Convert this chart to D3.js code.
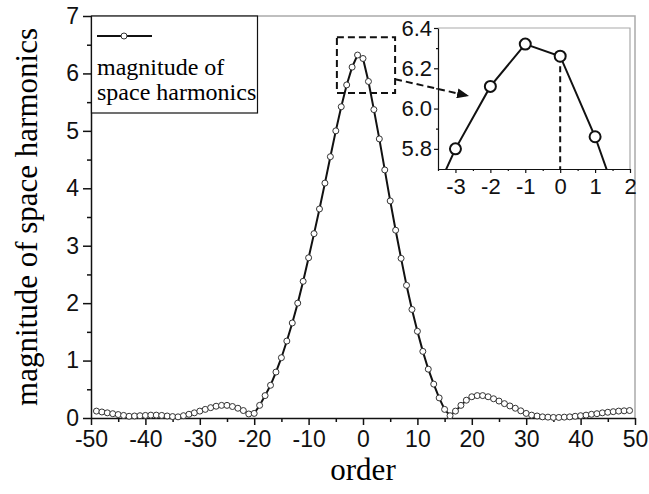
<!DOCTYPE html>
<html>
<head>
<meta charset="utf-8">
<script src="https://cdn.jsdelivr.net/npm/d3@7"></script>
<style>
  body { margin: 0; background: #fff; }
  svg { display: block; }
</style>
</head>
<body>
<div id="plot"></div>
<script>
// harmonic orders and their magnitudes
const orders = d3.range(-49, 50)
const magnitudes = [
  0.12, 0.105, 0.09, 0.075, 0.06, 0.045, 0.03, 0.035, 0.04, 0.045,   // -49..-40
  0.05, 0.05, 0.045, 0.035, 0.025, 0.02, 0.04, 0.065, 0.09, 0.12,     // -39..-30
  0.15, 0.18, 0.205, 0.22, 0.22, 0.2, 0.17, 0.13, 0.07, 0.08,         // -29..-20
  0.22, 0.39, 0.57, 0.80, 1.05, 1.34, 1.655, 2.00, 2.38, 2.79,        // -19..-10
  3.21, 3.64, 4.09, 4.55, 5.00, 5.42, 5.80, 6.11, 6.32, 6.26,         // -9..0
  5.86, 5.37, 4.86, 4.32, 3.78, 3.27, 2.78, 2.31, 1.89, 1.51,         // 1..10
  1.16, 0.85, 0.59, 0.35, 0.15, 0.04, 0.12, 0.22, 0.31, 0.37,         // 11..20
  0.39, 0.39, 0.37, 0.335, 0.295, 0.25, 0.21, 0.17, 0.125, 0.08,      // 21..30
  0.05, 0.035, 0.02, 0.015, 0.01, 0.01, 0.015, 0.02, 0.03, 0.04,      // 31..40
  0.05, 0.065, 0.075, 0.09, 0.10, 0.11, 0.12, 0.125, 0.13             // 41..49
]
const xTicks = [-50, -40, -30, -20, -10, 0, 10, 20, 30, 40, 50]
const yTicks = [0, 1, 2, 3, 4, 5, 6, 7]
const insetXTicks = [-3, -2, -1, 0, 1, 2]
const insetYTicks = [5.8, 6.0, 6.2, 6.4]
const legendLines = ['magnitude of', 'space harmonics']

const data = orders.map((o, i) => ({order: o, value: magnitudes[i]}))

var width = 649, height = 494
var margin = {top: 16, right: 14, bottom: 76, left: 91}
var w = width - margin.left - margin.right,
    h = height - margin.top - margin.bottom

var svg = d3.select('#plot')
  .append('svg')
    .attr('width', width)
    .attr('height', height)

var g = svg.append('g')
    .attr('transform', `translate(${margin.left},${margin.top})`)

var x = d3.scaleLinear().domain([-50, 50]).range([0, w])
var y = d3.scaleLinear().domain([0, 7]).range([h, 0])

const tickFont = '"Liberation Sans", Arial, sans-serif'
const serif = '"Liberation Serif", "Times New Roman", serif'
const plain = d => String(d)   // plain hyphen minus like the original

// grey frame on top / right
g.append('path')
  .attr('d', `M0,0H${w}V${h}`)
  .attr('fill', 'none')
  .attr('stroke', '#aaa')
  .attr('stroke-width', 1.5)

// minor ticks
g.append('g')
  .attr('transform', `translate(0,${h})`)
  .call(d3.axisBottom(x).tickValues(d3.range(-45, 50, 10)).tickSize(4).tickFormat(''))
  .call(a => a.select('.domain').remove())
g.append('g')
  .call(d3.axisLeft(y).tickValues(d3.range(0.5, 7, 1)).tickSize(4).tickFormat(''))
  .call(a => a.select('.domain').remove())

// X axis
var xAxis = g.append('g')
  .attr('transform', `translate(0,${h})`)
  .call(d3.axisBottom(x).tickValues(xTicks).tickSize(7).tickSizeOuter(0).tickPadding(6).tickFormat(plain))
xAxis.selectAll('text').attr('font-size', 23).attr('font-family', tickFont).attr('fill', '#111')

// Y axis
var yAxis = g.append('g')
  .call(d3.axisLeft(y).tickValues(yTicks).tickSize(8).tickSizeOuter(0).tickPadding(4).tickFormat(plain))
yAxis.selectAll('text').attr('font-size', 23).attr('font-family', tickFont).attr('fill', '#111')

svg.selectAll('.domain, .tick line').attr('stroke', '#111').attr('stroke-width', 1.5)

// axis titles
svg.append('text')
  .attr('x', margin.left + w / 2)
  .attr('y', 480)
  .attr('text-anchor', 'middle')
  .attr('font-family', serif)
  .attr('font-size', 31)
  .text('order')

svg.append('text')
  .attr('transform', 'translate(37,' + (margin.top + h / 2) + ') rotate(-90)')
  .attr('text-anchor', 'middle')
  .attr('font-family', serif)
  .attr('font-size', 31)
  .text('magnitude of space harmonics')

// the curve
var line = d3.line().x(d => x(d.order)).y(d => y(d.value))
g.append('path')
  .datum(data)
  .attr('fill', 'none')
  .attr('stroke', '#111')
  .attr('stroke-width', 2)
  .attr('d', line)

g.selectAll('.dot')
  .data(data)
  .enter()
  .append('circle')
    .attr('cx', d => x(d.order))
    .attr('cy', d => y(d.value))
    .attr('r', 3)
    .attr('fill', '#fff')
    .attr('stroke', '#333')
    .attr('stroke-width', 1)

// legend
var lg = svg.append('g').attr('transform', `translate(${margin.left},${margin.top})`)
lg.append('rect')
  .attr('x', 0.5).attr('y', 0)
  .attr('width', 166).attr('height', 97)
  .attr('fill', '#fff')
  .attr('stroke', '#111')
  .attr('stroke-width', 1.2)
lg.append('line')
  .attr('x1', 6).attr('x2', 61).attr('y1', 20).attr('y2', 20)
  .attr('stroke', '#111').attr('stroke-width', 2)
lg.append('circle')
  .attr('cx', 33).attr('cy', 20).attr('r', 3)
  .attr('fill', '#fff').attr('stroke', '#333')
lg.selectAll('.lab')
  .data(legendLines)
  .enter()
  .append('text')
    .attr('x', 6)
    .attr('y', (d, i) => 59 + i * 25)
    .attr('font-family', serif)
    .attr('font-size', 24)
    .text(d => d)

// dashed zoom box around the peak
g.append('rect')
  .attr('x', x(-4.8)).attr('y', y(6.63))
  .attr('width', x(5.9) - x(-4.8))
  .attr('height', y(5.66) - y(6.63))
  .attr('fill', 'none')
  .attr('stroke', '#111')
  .attr('stroke-width', 2)
  .attr('stroke-dasharray', '7,4')

// inset
var ins = {left: 438, top: 28, width: 192, height: 141}
var ix = d3.scaleLinear().domain([-3.5, 2]).range([0, ins.width])
var iy = d3.scaleLinear().domain([5.7, 6.4]).range([ins.height, 0])
var ig = svg.append('g').attr('transform', `translate(${ins.left},${ins.top})`)

ig.append('rect')
  .attr('width', ins.width).attr('height', ins.height)
  .attr('fill', '#fff')
ig.append('path')
  .attr('d', `M0,0H${ins.width}V${ins.height}`)
  .attr('fill', 'none')
  .attr('stroke', '#aaa')
  .attr('stroke-width', 1.2)

ig.append('clipPath').attr('id', 'iclip')
  .append('rect').attr('width', ins.width).attr('height', ins.height)

var insetData = data.filter(d => d.order >= -4 && d.order <= 2)
var ix0 = ix(0), iy0 = iy(insetData.find(d => d.order === 0).value)

ig.append('line')
  .attr('x1', ix0).attr('x2', ix0).attr('y1', iy0).attr('y2', ins.height)
  .attr('stroke', '#111').attr('stroke-width', 2)
  .attr('stroke-dasharray', '6,4')

ig.append('path')
  .datum(insetData)
  .attr('clip-path', 'url(#iclip)')
  .attr('fill', 'none')
  .attr('stroke', '#111')
  .attr('stroke-width', 2)
  .attr('d', d3.line().x(d => ix(d.order)).y(d => iy(d.value)))

ig.selectAll('.idot')
  .data(insetData.filter(d => d.order >= -3 && d.order <= 1))
  .enter()
  .append('circle')
    .attr('cx', d => ix(d.order))
    .attr('cy', d => iy(d.value))
    .attr('r', 5.5)
    .attr('fill', '#fff')
    .attr('stroke', '#111')
    .attr('stroke-width', 2)

ig.append('g')
  .attr('transform', `translate(0,${ins.height})`)
  .call(d3.axisBottom(ix).tickValues(d3.range(-3.5, 2, 1)).tickSize(2).tickFormat(''))
  .call(a => a.select('.domain').remove())
ig.append('g')
  .call(d3.axisLeft(iy).tickValues([5.9, 6.1, 6.3]).tickSize(2).tickFormat(''))
  .call(a => a.select('.domain').remove())

var ixAxis = ig.append('g')
  .attr('transform', `translate(0,${ins.height})`)
  .call(d3.axisBottom(ix).tickValues(insetXTicks).tickSize(4).tickSizeOuter(0).tickPadding(5).tickFormat(plain))
ixAxis.selectAll('text').attr('font-size', 22).attr('font-family', tickFont).attr('fill', '#111')

var iyAxis = ig.append('g')
  .call(d3.axisLeft(iy).tickValues(insetYTicks).tickSize(4).tickSizeOuter(0).tickPadding(2).tickFormat(d => d.toFixed(1)))
iyAxis.selectAll('text').attr('font-size', 22).attr('font-family', tickFont).attr('fill', '#111')

ig.selectAll('.domain, .tick line').attr('stroke', '#111').attr('stroke-width', 1.2)

// dashed arrow from the box into the inset (on top of everything)
svg.append('defs').append('marker')
  .attr('id', 'arrow')
  .attr('viewBox', '0 0 12 10')
  .attr('refX', 12).attr('refY', 5)
  .attr('markerWidth', 12).attr('markerHeight', 10)
  .attr('markerUnits', 'userSpaceOnUse')
  .attr('orient', 'auto')
  .append('path')
    .attr('d', 'M0,0L12,5L0,10Z')
    .attr('fill', '#111')

svg.append('line')
  .attr('x1', margin.left + x(5.9)).attr('y1', margin.top + y(5.9))
  .attr('x2', ins.left + 31).attr('y2', 96)
  .attr('stroke', '#111')
  .attr('stroke-width', 2)
  .attr('stroke-dasharray', '7,4')
  .attr('marker-end', 'url(#arrow)')
</script>
</body>
</html>
